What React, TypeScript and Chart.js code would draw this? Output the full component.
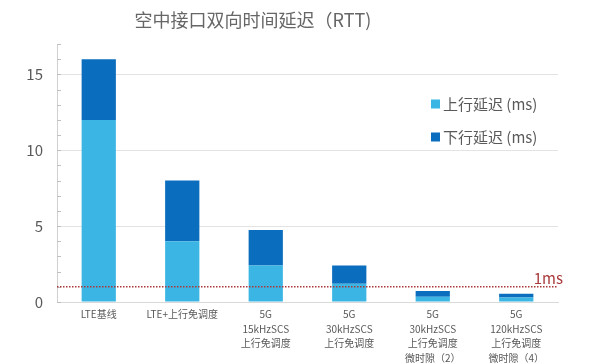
import React, { useEffect, useRef } from "react";
import { Chart, registerables } from "chart.js";

Chart.register(...registerables);

const titleText = "空中接口双向时间延迟（RTT)";
const categories: string[][] = [
  ["LTE基线"],
  ["LTE+上行免调度"],
  ["5G", "15kHzSCS", "上行免调度"],
  ["5G", "30kHzSCS", "上行免调度"],
  ["5G", "30kHzSCS", "上行免调度", "微时隙（2）"],
  ["5G", "120kHzSCS", "上行免调度", "微时隙（4）"],
];
const seriesNames = ["上行延迟 (ms)", "下行延迟 (ms)"];
const uplink = [12, 4, 2.4, 1.2, 0.35, 0.3];
const downlink = [4, 4, 2.35, 1.2, 0.37, 0.25];
const thresholdValue = 1;
const thresholdLabel = "1ms";
const yMax = 17;

const FONT = "'Noto Sans CJK SC', 'Noto Sans', sans-serif";
const GRAY = "#595959";
const LIGHT = "#3bb6e4";
const DARK = "#0a6dbd";
const RED = "#a8383a";

const overlay = {
  id: "overlay",
  afterDraw(chart: any) {
    const { ctx, chartArea, scales } = chart;
    const y = scales.y;
    ctx.save();
    // title
    ctx.fillStyle = "#666666";
    ctx.font = `18px ${FONT}`;
    ctx.textAlign = "center";
    ctx.textBaseline = "middle";
    ctx.fillText(titleText, 253, 20);
    // minor ticks on y axis
    ctx.strokeStyle = "#bfbfbf";
    ctx.lineWidth = 1;
    for (let v = 0; v <= yMax; v++) {
      const py = Math.round(y.getPixelForValue(v)) + 0.5;
      ctx.beginPath();
      ctx.moveTo(chartArea.left, py);
      ctx.lineTo(chartArea.left + 4, py);
      ctx.stroke();
    }
    // threshold line
    const ty = y.getPixelForValue(thresholdValue);
    ctx.strokeStyle = RED;
    ctx.lineWidth = 1.5;
    ctx.setLineDash([1.5, 1.5]);
    ctx.beginPath();
    ctx.moveTo(chartArea.left, ty);
    ctx.lineTo(chartArea.right, ty);
    ctx.stroke();
    ctx.setLineDash([]);
    ctx.fillStyle = RED;
    ctx.font = `15px ${FONT}`;
    ctx.textAlign = "right";
    ctx.textBaseline = "bottom";
    ctx.fillText(thresholdLabel, chartArea.right + 5, ty - 1);
    // legend
    const ds = chart.data.datasets;
    ctx.textAlign = "left";
    ctx.textBaseline = "middle";
    ctx.font = `15px ${FONT}`;
    ds.forEach((d: any, i: number) => {
      const cy = 104 + i * 33;
      ctx.fillStyle = d.backgroundColor;
      ctx.fillRect(431, cy - 4.5, 9, 9);
      ctx.fillStyle = GRAY;
      ctx.fillText(d.label, 443, cy);
    });
    ctx.restore();
  },
};

export default function App() {
  const ref = useRef<HTMLCanvasElement>(null);
  useEffect(() => {
    if (!ref.current) return;
    const chart = new Chart(ref.current, {
      type: "bar",
      data: {
        labels: categories,
        datasets: [
          { label: seriesNames[0], data: uplink, backgroundColor: LIGHT, borderWidth: 0 },
          { label: seriesNames[1], data: downlink, backgroundColor: DARK, borderWidth: 0 },
        ],
      },
      options: {
        animation: false,
        responsive: false,
        maintainAspectRatio: false,
        layout: { padding: { top: 44, right: 34, left: 0, bottom: 0 } },
        plugins: {
          legend: { display: false },
          title: { display: false },
          tooltip: { enabled: false },
        },
        datasets: { bar: { barPercentage: 1, categoryPercentage: 0.41 } },
        scales: {
          x: {
            stacked: true,
            grid: { display: false, drawTicks: false },
            border: { color: "#d9d9d9", width: 1 },
            ticks: {
              color: GRAY,
              font: { family: FONT, size: 10, lineHeight: 1.45 },
              padding: 5,
              maxRotation: 0,
              autoSkip: false,
            },
            afterFit(scale: any) {
              scale.height = 61;
            },
          },
          y: {
            stacked: true,
            min: 0,
            max: yMax,
            grid: {
              drawTicks: false,
              color: (c: any) =>
                c.tick && c.tick.value % 5 === 0 && c.tick.value !== 0 ? "#e3e3e3" : "rgba(0,0,0,0)",
            },
            border: { color: "#d0d0d0", width: 1 },
            ticks: {
              stepSize: 1,
              autoSkip: false,
              color: GRAY,
              font: { family: FONT, size: 15 },
              padding: 14,
              callback: (v: any) => (Number(v) % 5 === 0 ? String(v) : ""),
            },
            afterFit(scale: any) {
              scale.width = 57;
            },
          },
        },
      },
      plugins: [overlay],
    });
    return () => chart.destroy();
  }, []);
  return (
    <div style={{ position: "fixed", left: 0, top: 0, width: 592, height: 363, background: "#fff" }}>
      <canvas ref={ref} width={592} height={363} style={{ width: 592, height: 363 }} />
    </div>
  );
}
